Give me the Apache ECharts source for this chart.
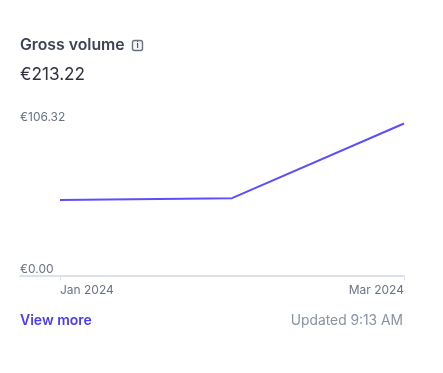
<!DOCTYPE html>
<html>
<head>
<meta charset="utf-8">
<style>
html, body { margin: 0; padding: 0; background: #fff; }
#chart { width: 443px; height: 373px; }
</style>
<script src="https://cdn.jsdelivr.net/npm/echarts@6/dist/echarts.min.js"></script>
</head>
<body>
<div id="chart"></div>
<script>
var monthIndex = [0, 1, 2];
var grossVolume = [52.8, 54.1, 106.32];
var xTickValues = [0, 2];
var xTickLabels = ['Jan 2024', 'Mar 2024'];
var yTickValues = [0, 106.32];
var yTickLabels = ['€0.00', '€106.32'];
var cardTitle = 'Gross volume';
var totalText = '€213.22';
var linkText = 'View more';
var updatedText = 'Updated 9:13 AM';

var fontName = 'Inter';
var myChart = echarts.init(document.getElementById('chart'), null, { renderer: 'canvas' });

var points = monthIndex.map(function (m, i) { return [m, grossVolume[i]]; });

var option = {
	animation: false,
	backgroundColor: '#fff',
	textStyle: { fontFamily: fontName },
	title: [
		{ text: cardTitle, left: 20, top: 37, padding: 0, textStyle: { fontFamily: fontName, fontSize: 15.8, fontWeight: 600, color: '#3c4257' } },
		{ text: totalText, left: 20, top: 66, padding: 0, textStyle: { fontFamily: fontName, fontSize: 17.2, fontWeight: 400, color: '#30313d' } },
		{ text: linkText, left: 20, top: 314, padding: 0, textStyle: { fontFamily: fontName, fontSize: 14, fontWeight: 600, color: '#4a3cf0' } },
		{ text: updatedText, right: 40, top: 314, padding: 0, textStyle: { fontFamily: fontName, fontSize: 13.8, fontWeight: 400, color: '#8792a2' } }
	],
	graphic: [
		{ type: 'rect', shape: { x: 132.5, y: 40.5, width: 10, height: 10, r: 2 }, style: { fill: '#f6f7f9', stroke: '#6a7383', lineWidth: 1.4 } },
		{ type: 'text', x: 137.5, y: 45.5, style: { text: 'i', font: '700 8px Inter', fill: '#4f5566', align: 'center', verticalAlign: 'middle' } }
	],
	grid: { left: 20, right: 39, top: 123.5, bottom: 97.5 },
	xAxis: {
		type: 'value',
		min: -40 / 172,
		max: 2,
		splitLine: { show: false },
		axisLine: { show: true, lineStyle: { color: '#dfe1e8', width: 2 } },
		axisTick: { show: true, customValues: xTickValues, length: 5, lineStyle: { color: '#dfe1e8', width: 1 } },
		axisLabel: {
			customValues: xTickValues,
			margin: 9,
			fontFamily: fontName,
			fontSize: 12,
			color: '#697386',
			alignMinLabel: 'left',
			alignMaxLabel: 'right',
			showMinLabel: true,
			showMaxLabel: true,
			formatter: function (v) { return xTickLabels[xTickValues.indexOf(v)]; }
		}
	},
	yAxis: {
		type: 'value',
		min: 0,
		max: 106.32,
		splitLine: { show: false },
		axisLine: { show: false },
		axisTick: { show: false },
		axisLabel: {
			inside: true,
			customValues: yTickValues,
			margin: 0,
			fontFamily: fontName,
			fontSize: 12,
			color: '#697386',
			verticalAlign: 'bottom',
			lineHeight: 13,
			showMinLabel: true,
			showMaxLabel: true,
			alignMinLabel: 'bottom',
			alignMaxLabel: 'bottom',
			formatter: function (v) { return yTickLabels[yTickValues.indexOf(v)]; }
		}
	},
	series: [{
		type: 'line',
		data: points,
		showSymbol: false,
		smooth: false,
		clip: false,
		lineStyle: { color: '#5a50f5', width: 2 }
	}]
};

myChart.setOption(option);

window.addEventListener('resize', function () {
	myChart.resize();
});
</script>
</body>
</html>
